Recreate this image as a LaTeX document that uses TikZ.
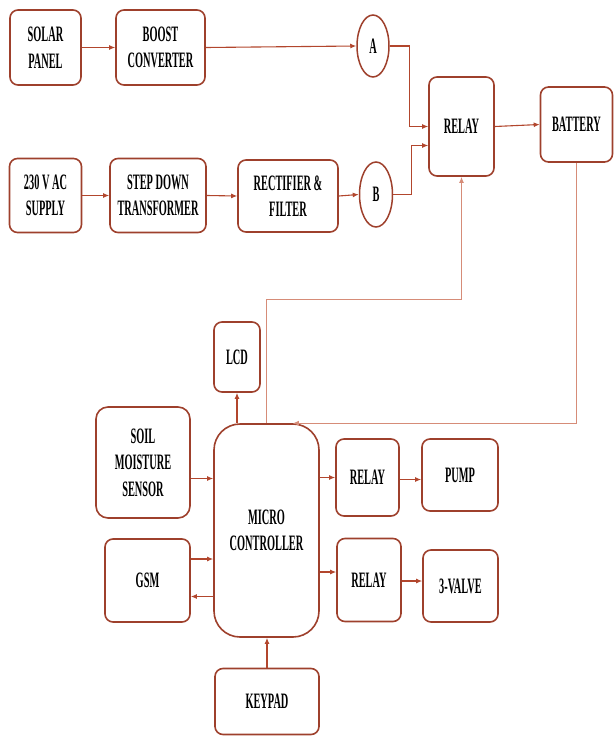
\documentclass[tikz,border=0pt]{standalone}
\usepackage{fontspec}
\setmainfont{Liberation Serif}[FakeStretch=0.47]
\usetikzlibrary{arrows.meta,calc}
\definecolor{bdr}{RGB}{158,64,44}
\definecolor{arc}{RGB}{178,70,45}
\definecolor{lite}{RGB}{214,140,120}
\tikzset{
  blk/.style={draw=bdr,line width=1.6pt,rounded corners=8pt,rectangle,inner sep=0pt,align=center,
    font=\fontsize{22}{26.5}\selectfont\bfseries,text=black},
  circ/.style={draw=bdr,line width=1.5pt,ellipse,inner sep=0pt,font=\fontsize{22}{26}\selectfont\bfseries},
  arr/.style={draw=arc,line width=1.1pt,-{Latex[length=6pt,width=5pt]}},
  litearr/.style={draw=lite,line width=1.1pt,-{Latex[length=6pt,width=5pt]}},
}
\usetikzlibrary{shapes.geometric}
\begin{document}
\begin{tikzpicture}[x=1pt,y=-1pt]
\useasboundingbox (0,0) rectangle (614,736);
% top row
\node[blk,minimum width=71pt,minimum height=75pt] (solar) at (45.5,47.5) {SOLAR\\PANEL};
\node[blk,minimum width=89pt,minimum height=75pt] (boost) at (160.5,47.5) {BOOST\\CONVERTER};
\node[circ,minimum width=32pt,minimum height=62pt] (A) at (373,46) {A};
\node[blk,minimum width=65pt,minimum height=99pt] (relay) at (461.5,126.5) {RELAY};
\node[blk,minimum width=72pt,minimum height=75pt] (bat) at (576.5,124.5) {BATTERY};
% second row
\node[blk,minimum width=72pt,minimum height=74pt] (ac) at (45.5,195.5) {230 V AC\\SUPPLY};
\node[blk,minimum width=96pt,minimum height=74pt] (sd) at (158,195.5) {STEP DOWN\\TRANSFORMER};
\node[blk,minimum width=100pt,minimum height=72pt] (rect) at (288,196) {RECTIFIER \&\\FILTER};
\node[circ,minimum width=33pt,minimum height=65pt] (B) at (376,194.5) {B};
% lower part
\node[blk,minimum width=46pt,minimum height=70pt] (lcd) at (237,357) {LCD};
\node[blk,minimum width=94pt,minimum height=111pt,rounded corners=12pt] (soil) at (143,462.5) {SOIL\\MOISTURE\\SENSOR};
\node[blk,minimum width=105pt,minimum height=213pt,rounded corners=26pt] (mc) at (266.5,530.5) {MICRO\\CONTROLLER};
\node[blk,minimum width=63pt,minimum height=77pt] (r1) at (367.5,477.5) {RELAY};
\node[blk,minimum width=76pt,minimum height=72pt] (pump) at (460,475) {PUMP};
\node[blk,minimum width=85pt,minimum height=83pt] (gsm) at (147.5,580.5) {GSM};
\node[blk,minimum width=64pt,minimum height=83pt] (r2) at (369,580) {RELAY};
\node[blk,minimum width=75pt,minimum height=72pt] (valve) at (460.5,586) {3-VALVE};
\node[blk,minimum width=104pt,minimum height=66pt] (key) at (267,701.5) {KEYPAD};
% connectors top
\draw[arr] (solar.east) -- (boost.west);
\draw[arr] (boost.east) -- (A.west);
\draw[arr] (A.east) -| ([xshift=-19pt]relay.west) -- (relay.west);
\draw[arr] (B.east) -| ([xshift=-17pt,yshift=-19pt]relay.west) -- ([yshift=-19pt]relay.west);
\draw[arr] (relay.east) -- (bat.west);
\draw[arr] (ac.east) -- (sd.west);
\draw[arr] (sd.east) -- (rect.west);
\draw[arr] (rect.east) -- (B.west);
% feedback lines
\draw[litearr] (bat.south) |- ([xshift=-27pt]mc.north east);
\draw[litearr] (mc.north) -- ++(0,-124) coordinate (k1) -| (relay.south);
\draw[arr] (mc.north -| lcd.south) -- (lcd.south);
% lower connectors
\coordinate (s1) at ([yshift=-16pt]soil.east);
\draw[arr] (s1) -- (s1 -| mc.west);
\coordinate (g1) at ([yshift=21.5pt]gsm.east);
\draw[arr] (g1) -- (g1 -| mc.west);
\coordinate (g2) at ([yshift=-16pt]gsm.east);
\draw[arr] (g2 -| mc.west) -- (g2);
\draw[arr] (mc.east |- r1.west) -- (r1.west);
\draw[arr] ([yshift=-2pt]r1.east) -- ([yshift=-2pt]r1.east -| pump.west);
\coordinate (m2) at ([yshift=8pt]r2.west);
\draw[arr] (m2 -| mc.east) -- (m2);
\coordinate (m3) at ([yshift=-1pt]r2.east);
\draw[arr] (m3) -- (m3 -| valve.west);
\draw[arr] (key.north) -- (key.north |- mc.south);
\end{tikzpicture}
\end{document}
